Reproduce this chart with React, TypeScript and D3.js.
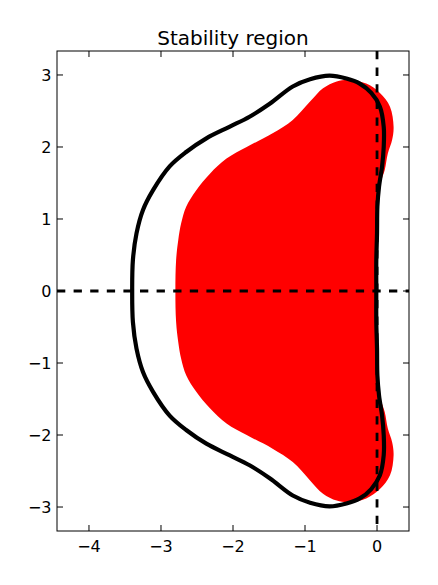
import React, { useEffect, useRef } from 'react';
import * as d3 from 'd3';

// boundary of the outer region (black line)
const outerX = [
    -0.01, -0.01, 0.0, 0.005, 0.028, 0.07, 0.093, 0.093, 0.04, -0.08, -0.24, -0.425, -0.66, -0.93, -1.17, -1.49, -1.77, -2.05, -2.37, -2.65, -2.88, -3.11, -3.25, -3.34, -3.39,
    -3.40,
    -3.39, -3.34, -3.25, -3.11, -2.88, -2.65, -2.37, -2.05, -1.77, -1.49, -1.17, -0.93, -0.66, -0.425, -0.24, -0.08, 0.04, 0.093, 0.093, 0.07, 0.028, 0.005, 0.0, -0.01,
];
const outerY = [
    0, 0.43, 0.80, 1.17, 1.45, 1.73, 2.00, 2.28, 2.56, 2.75, 2.88, 2.95, 2.99, 2.94, 2.84, 2.60, 2.42, 2.28, 2.12, 1.93, 1.73, 1.40, 1.125, 0.80, 0.43,
    0,
    -0.43, -0.80, -1.125, -1.40, -1.73, -1.93, -2.12, -2.28, -2.42, -2.60, -2.84, -2.94, -2.99, -2.95, -2.88, -2.75, -2.56, -2.28, -2.00, -1.73, -1.45, -1.17, -0.80, -0.43,
];

// filled inner region (red)
const innerX = [
    0.0, -0.005, 0.0, 0.02, 0.05, 0.107, 0.15, 0.21, 0.23, 0.18, 0.04, -0.15, -0.38, -0.56, -0.75, -0.93, -1.17, -1.45, -1.81, -2.09, -2.32, -2.51, -2.65, -2.72, -2.76, -2.79,
    -2.80,
    -2.79, -2.76, -2.72, -2.65, -2.51, -2.32, -2.09, -1.81, -1.45, -1.17, -0.93, -0.75, -0.56, -0.38, -0.15, 0.04, 0.18, 0.23, 0.21, 0.15, 0.107, 0.05, 0.02, 0.0, -0.005,
];
const innerY = [
    0, 0.43, 0.80, 1.20, 1.50, 1.68, 1.91, 2.10, 2.28, 2.56, 2.75, 2.88, 2.93, 2.91, 2.815, 2.63, 2.375, 2.19, 2.00, 1.84, 1.63, 1.40, 1.17, 0.94, 0.71, 0.43,
    0,
    -0.43, -0.71, -0.94, -1.17, -1.40, -1.63, -1.84, -2.00, -2.19, -2.375, -2.63, -2.815, -2.91, -2.93, -2.88, -2.75, -2.56, -2.28, -2.10, -1.91, -1.68, -1.50, -1.20, -0.80, -0.43,
];

const xDomain = [-4.444, 0.444];
const yDomain = [-3.333, 3.333];
const xTicks = [-4, -3, -2, -1, 0];
const yTicks = [-3, -2, -1, 0, 1, 2, 3];

const fmt = (v: number) => (v < 0 ? '\u2212' + Math.abs(v) : String(v));

const App = () => {
    const svgRef = useRef<SVGSVGElement | null>(null);

    useEffect(() => {
        if (!svgRef.current) return;
        const W = 438, H = 585;
        const margin = { top: 51, right: 29, bottom: 54, left: 57 };
        const width = W - margin.left - margin.right;
        const height = H - margin.top - margin.bottom;

        const svg = d3.select(svgRef.current);
        svg.selectAll('*').remove();
        svg.attr('width', W).attr('height', H);

        const g = svg.append('g').attr('transform', `translate(${margin.left},${margin.top})`);

        const x = d3.scaleLinear().domain(xDomain).range([0, width]);
        const y = d3.scaleLinear().domain(yDomain).range([height, 0]);

        g.append('clipPath').attr('id', 'plot-clip')
            .append('rect').attr('width', width).attr('height', height);

        const plot = g.append('g').attr('clip-path', 'url(#plot-clip)');

        const inner = innerX.map((v, i) => [v, innerY[i]] as [number, number]);
        const outer = outerX.map((v, i) => [v, outerY[i]] as [number, number]);

        const line = d3.line<[number, number]>()
            .x(d => x(d[0]))
            .y(d => y(d[1]))
            .curve(d3.curveCatmullRomClosed);

        plot.append('path')
            .attr('d', line(inner))
            .attr('fill', '#ff0000')
            .attr('stroke', 'none');

        plot.append('path')
            .attr('d', line(outer))
            .attr('fill', 'none')
            .attr('stroke', '#000')
            .attr('stroke-width', 4.2);

        // dashed axes through the origin
        plot.append('line')
            .attr('x1', x(xDomain[0])).attr('x2', x(xDomain[1]))
            .attr('y1', y(0)).attr('y2', y(0))
            .attr('stroke', '#000').attr('stroke-width', 2.8)
            .attr('stroke-dasharray', '8.3 8.3');
        plot.append('line')
            .attr('x1', x(0)).attr('x2', x(0))
            .attr('y1', y(yDomain[1])).attr('y2', y(yDomain[0]))
            .attr('stroke', '#000').attr('stroke-width', 2.8)
            .attr('stroke-dasharray', '8.3 8.3');

        // ticks on all four sides, pointing inward
        const tl = 6;
        xTicks.forEach(t => {
            g.append('line').attr('x1', x(t)).attr('x2', x(t)).attr('y1', height).attr('y2', height - tl)
                .attr('stroke', '#000').attr('stroke-width', 1);
            g.append('line').attr('x1', x(t)).attr('x2', x(t)).attr('y1', 0).attr('y2', tl)
                .attr('stroke', '#000').attr('stroke-width', 1);
            g.append('text')
                .attr('x', x(t)).attr('y', height + 21)
                .attr('text-anchor', 'middle')
                .style('font-family', 'DejaVu Sans')
                .style('font-size', '16px')
                .text(fmt(t));
        });
        yTicks.forEach(t => {
            g.append('line').attr('x1', 0).attr('x2', tl).attr('y1', y(t)).attr('y2', y(t))
                .attr('stroke', '#000').attr('stroke-width', 1);
            g.append('line').attr('x1', width).attr('x2', width - tl).attr('y1', y(t)).attr('y2', y(t))
                .attr('stroke', '#000').attr('stroke-width', 1);
            g.append('text')
                .attr('x', -5.5).attr('y', y(t))
                .attr('dy', '0.36em')
                .attr('text-anchor', 'end')
                .style('font-family', 'DejaVu Sans')
                .style('font-size', '16px')
                .text(fmt(t));
        });

        g.append('rect')
            .attr('width', width).attr('height', height)
            .attr('fill', 'none').attr('stroke', '#000').attr('stroke-width', 1);

        svg.append('text')
            .attr('x', margin.left + width / 2).attr('y', 45)
            .attr('text-anchor', 'middle')
            .style('font-family', 'DejaVu Sans')
            .style('font-size', '20px')
            .text('Stability region');
    }, []);

    return (
        <div style={{ position: 'fixed', left: 0, top: 0, background: '#fff' }}>
            <svg ref={svgRef} style={{ display: 'block' }}></svg>
        </div>
    );
};

export default App;
